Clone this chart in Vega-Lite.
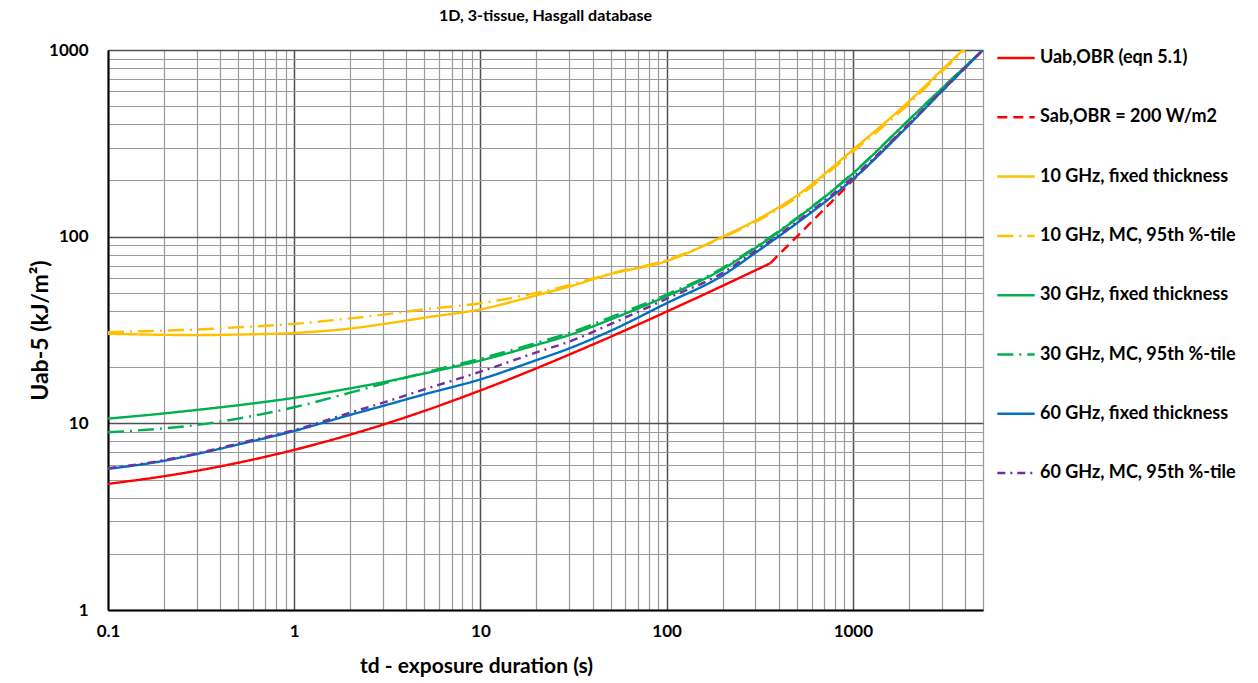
{
  "$schema": "https://vega.github.io/schema/vega-lite/v6.json",
  "width": 875,
  "height": 560,
  "autosize": {"type": "none"},
  "padding": {"left": 108, "top": 50, "right": 275, "bottom": 73},
  "background": "white",
  "view": {"stroke": null},
  "title": {"text": "1D, 3-tissue, Hasgall database", "font": "Lato", "fontSize": 16, "fontWeight": "bold", "color": "#000000", "anchor": "middle", "offset": 14},
  "data": {"values": [
    {"s": "Uab,OBR (eqn 5.1)", "t": 0.1, "U": 4.74},
    {"s": "Uab,OBR (eqn 5.1)", "t": 0.2, "U": 5.21},
    {"s": "Uab,OBR (eqn 5.1)", "t": 0.3, "U": 5.57},
    {"s": "Uab,OBR (eqn 5.1)", "t": 0.5, "U": 6.15},
    {"s": "Uab,OBR (eqn 5.1)", "t": 0.7, "U": 6.62},
    {"s": "Uab,OBR (eqn 5.1)", "t": 1, "U": 7.21},
    {"s": "Uab,OBR (eqn 5.1)", "t": 2, "U": 8.7},
    {"s": "Uab,OBR (eqn 5.1)", "t": 3, "U": 9.84},
    {"s": "Uab,OBR (eqn 5.1)", "t": 5, "U": 11.66},
    {"s": "Uab,OBR (eqn 5.1)", "t": 7, "U": 13.14},
    {"s": "Uab,OBR (eqn 5.1)", "t": 10, "U": 15.0},
    {"s": "Uab,OBR (eqn 5.1)", "t": 20, "U": 19.72},
    {"s": "Uab,OBR (eqn 5.1)", "t": 30, "U": 23.35},
    {"s": "Uab,OBR (eqn 5.1)", "t": 50, "U": 29.09},
    {"s": "Uab,OBR (eqn 5.1)", "t": 70, "U": 33.76},
    {"s": "Uab,OBR (eqn 5.1)", "t": 100, "U": 39.65},
    {"s": "Uab,OBR (eqn 5.1)", "t": 150, "U": 47.75},
    {"s": "Uab,OBR (eqn 5.1)", "t": 200, "U": 54.58},
    {"s": "Uab,OBR (eqn 5.1)", "t": 300, "U": 66.04},
    {"s": "Uab,OBR (eqn 5.1)", "t": 360, "U": 72},
    {"s": "Sab,OBR = 200 W/m2", "t": 360, "U": 72},
    {"s": "Sab,OBR = 200 W/m2", "t": 1000, "U": 200},
    {"s": "Sab,OBR = 200 W/m2", "t": 5000, "U": 1000},
    {"s": "10 GHz, fixed thickness", "t": 0.1, "U": 30.2},
    {"s": "10 GHz, fixed thickness", "t": 0.2, "U": 29.8},
    {"s": "10 GHz, fixed thickness", "t": 0.3, "U": 29.7},
    {"s": "10 GHz, fixed thickness", "t": 0.5, "U": 29.9},
    {"s": "10 GHz, fixed thickness", "t": 1, "U": 30.5},
    {"s": "10 GHz, fixed thickness", "t": 2, "U": 32.2},
    {"s": "10 GHz, fixed thickness", "t": 3, "U": 34.0},
    {"s": "10 GHz, fixed thickness", "t": 5, "U": 36.8},
    {"s": "10 GHz, fixed thickness", "t": 10, "U": 40.8},
    {"s": "10 GHz, fixed thickness", "t": 20, "U": 48.5},
    {"s": "10 GHz, fixed thickness", "t": 30, "U": 54},
    {"s": "10 GHz, fixed thickness", "t": 50, "U": 63},
    {"s": "10 GHz, fixed thickness", "t": 100, "U": 74},
    {"s": "10 GHz, fixed thickness", "t": 200, "U": 100},
    {"s": "10 GHz, fixed thickness", "t": 300, "U": 122},
    {"s": "10 GHz, fixed thickness", "t": 500, "U": 166},
    {"s": "10 GHz, fixed thickness", "t": 1000, "U": 292},
    {"s": "10 GHz, fixed thickness", "t": 2000, "U": 530},
    {"s": "10 GHz, fixed thickness", "t": 3000, "U": 780},
    {"s": "10 GHz, fixed thickness", "t": 3900, "U": 1000},
    {"s": "10 GHz, MC, 95th %-tile", "t": 0.1, "U": 30.8},
    {"s": "10 GHz, MC, 95th %-tile", "t": 0.2, "U": 31.4},
    {"s": "10 GHz, MC, 95th %-tile", "t": 0.3, "U": 31.8},
    {"s": "10 GHz, MC, 95th %-tile", "t": 0.5, "U": 32.7},
    {"s": "10 GHz, MC, 95th %-tile", "t": 1, "U": 34.1},
    {"s": "10 GHz, MC, 95th %-tile", "t": 2, "U": 36.5},
    {"s": "10 GHz, MC, 95th %-tile", "t": 3, "U": 38.2},
    {"s": "10 GHz, MC, 95th %-tile", "t": 5, "U": 40.8},
    {"s": "10 GHz, MC, 95th %-tile", "t": 10, "U": 44},
    {"s": "10 GHz, MC, 95th %-tile", "t": 20, "U": 50},
    {"s": "10 GHz, MC, 95th %-tile", "t": 30, "U": 55},
    {"s": "10 GHz, MC, 95th %-tile", "t": 50, "U": 63.5},
    {"s": "10 GHz, MC, 95th %-tile", "t": 100, "U": 75},
    {"s": "10 GHz, MC, 95th %-tile", "t": 200, "U": 99},
    {"s": "10 GHz, MC, 95th %-tile", "t": 300, "U": 120},
    {"s": "10 GHz, MC, 95th %-tile", "t": 500, "U": 162},
    {"s": "10 GHz, MC, 95th %-tile", "t": 1000, "U": 285},
    {"s": "10 GHz, MC, 95th %-tile", "t": 2000, "U": 515},
    {"s": "10 GHz, MC, 95th %-tile", "t": 3000, "U": 765},
    {"s": "10 GHz, MC, 95th %-tile", "t": 4000, "U": 1000},
    {"s": "30 GHz, fixed thickness", "t": 0.1, "U": 10.6},
    {"s": "30 GHz, fixed thickness", "t": 0.2, "U": 11.3},
    {"s": "30 GHz, fixed thickness", "t": 0.3, "U": 11.8},
    {"s": "30 GHz, fixed thickness", "t": 0.5, "U": 12.5},
    {"s": "30 GHz, fixed thickness", "t": 1, "U": 13.7},
    {"s": "30 GHz, fixed thickness", "t": 2, "U": 15.4},
    {"s": "30 GHz, fixed thickness", "t": 3, "U": 16.6},
    {"s": "30 GHz, fixed thickness", "t": 5, "U": 18.5},
    {"s": "30 GHz, fixed thickness", "t": 10, "U": 21.7},
    {"s": "30 GHz, fixed thickness", "t": 20, "U": 26.3},
    {"s": "30 GHz, fixed thickness", "t": 30, "U": 29.7},
    {"s": "30 GHz, fixed thickness", "t": 50, "U": 36},
    {"s": "30 GHz, fixed thickness", "t": 100, "U": 48},
    {"s": "30 GHz, fixed thickness", "t": 200, "U": 67},
    {"s": "30 GHz, fixed thickness", "t": 300, "U": 87},
    {"s": "30 GHz, fixed thickness", "t": 500, "U": 125},
    {"s": "30 GHz, fixed thickness", "t": 1000, "U": 218},
    {"s": "30 GHz, fixed thickness", "t": 2000, "U": 422},
    {"s": "30 GHz, fixed thickness", "t": 3000, "U": 620},
    {"s": "30 GHz, fixed thickness", "t": 5000, "U": 1000},
    {"s": "30 GHz, MC, 95th %-tile", "t": 0.1, "U": 8.95},
    {"s": "30 GHz, MC, 95th %-tile", "t": 0.2, "U": 9.4},
    {"s": "30 GHz, MC, 95th %-tile", "t": 0.3, "U": 9.8},
    {"s": "30 GHz, MC, 95th %-tile", "t": 0.5, "U": 10.6},
    {"s": "30 GHz, MC, 95th %-tile", "t": 1, "U": 12.2},
    {"s": "30 GHz, MC, 95th %-tile", "t": 2, "U": 14.6},
    {"s": "30 GHz, MC, 95th %-tile", "t": 3, "U": 16.3},
    {"s": "30 GHz, MC, 95th %-tile", "t": 5, "U": 18.7},
    {"s": "30 GHz, MC, 95th %-tile", "t": 10, "U": 22.2},
    {"s": "30 GHz, MC, 95th %-tile", "t": 20, "U": 27},
    {"s": "30 GHz, MC, 95th %-tile", "t": 30, "U": 30.5},
    {"s": "30 GHz, MC, 95th %-tile", "t": 50, "U": 37},
    {"s": "30 GHz, MC, 95th %-tile", "t": 100, "U": 49},
    {"s": "30 GHz, MC, 95th %-tile", "t": 200, "U": 68},
    {"s": "30 GHz, MC, 95th %-tile", "t": 300, "U": 88},
    {"s": "30 GHz, MC, 95th %-tile", "t": 500, "U": 126},
    {"s": "30 GHz, MC, 95th %-tile", "t": 1000, "U": 219},
    {"s": "30 GHz, MC, 95th %-tile", "t": 2000, "U": 423},
    {"s": "30 GHz, MC, 95th %-tile", "t": 3000, "U": 622},
    {"s": "30 GHz, MC, 95th %-tile", "t": 5000, "U": 1000},
    {"s": "60 GHz, fixed thickness", "t": 0.1, "U": 5.7},
    {"s": "60 GHz, fixed thickness", "t": 0.2, "U": 6.3},
    {"s": "60 GHz, fixed thickness", "t": 0.3, "U": 6.85},
    {"s": "60 GHz, fixed thickness", "t": 0.5, "U": 7.7},
    {"s": "60 GHz, fixed thickness", "t": 1, "U": 9.1},
    {"s": "60 GHz, fixed thickness", "t": 2, "U": 11.1},
    {"s": "60 GHz, fixed thickness", "t": 3, "U": 12.4},
    {"s": "60 GHz, fixed thickness", "t": 5, "U": 14.3},
    {"s": "60 GHz, fixed thickness", "t": 10, "U": 17.2},
    {"s": "60 GHz, fixed thickness", "t": 20, "U": 21.8},
    {"s": "60 GHz, fixed thickness", "t": 30, "U": 25.2},
    {"s": "60 GHz, fixed thickness", "t": 50, "U": 31.3},
    {"s": "60 GHz, fixed thickness", "t": 100, "U": 44},
    {"s": "60 GHz, fixed thickness", "t": 200, "U": 62},
    {"s": "60 GHz, fixed thickness", "t": 300, "U": 82},
    {"s": "60 GHz, fixed thickness", "t": 500, "U": 118},
    {"s": "60 GHz, fixed thickness", "t": 1000, "U": 203},
    {"s": "60 GHz, fixed thickness", "t": 2000, "U": 396},
    {"s": "60 GHz, fixed thickness", "t": 3000, "U": 600},
    {"s": "60 GHz, fixed thickness", "t": 5000, "U": 1000},
    {"s": "60 GHz, MC, 95th %-tile", "t": 0.1, "U": 5.75},
    {"s": "60 GHz, MC, 95th %-tile", "t": 0.2, "U": 6.35},
    {"s": "60 GHz, MC, 95th %-tile", "t": 0.3, "U": 6.9},
    {"s": "60 GHz, MC, 95th %-tile", "t": 0.5, "U": 7.8},
    {"s": "60 GHz, MC, 95th %-tile", "t": 1, "U": 9.2},
    {"s": "60 GHz, MC, 95th %-tile", "t": 2, "U": 11.4},
    {"s": "60 GHz, MC, 95th %-tile", "t": 3, "U": 12.9},
    {"s": "60 GHz, MC, 95th %-tile", "t": 5, "U": 15.2},
    {"s": "60 GHz, MC, 95th %-tile", "t": 10, "U": 18.9},
    {"s": "60 GHz, MC, 95th %-tile", "t": 20, "U": 24},
    {"s": "60 GHz, MC, 95th %-tile", "t": 30, "U": 27.4},
    {"s": "60 GHz, MC, 95th %-tile", "t": 50, "U": 34},
    {"s": "60 GHz, MC, 95th %-tile", "t": 100, "U": 46.5},
    {"s": "60 GHz, MC, 95th %-tile", "t": 200, "U": 64},
    {"s": "60 GHz, MC, 95th %-tile", "t": 300, "U": 84},
    {"s": "60 GHz, MC, 95th %-tile", "t": 500, "U": 120},
    {"s": "60 GHz, MC, 95th %-tile", "t": 1000, "U": 208},
    {"s": "60 GHz, MC, 95th %-tile", "t": 2000, "U": 402},
    {"s": "60 GHz, MC, 95th %-tile", "t": 3000, "U": 605},
    {"s": "60 GHz, MC, 95th %-tile", "t": 5000, "U": 1000}
  ]},
  "mark": {"type": "line", "strokeWidth": 2.4, "clip": true, "interpolate": "monotone", "strokeCap": "butt"},
  "encoding": {
    "x": {
      "field": "t", "type": "quantitative",
      "scale": {"type": "log", "domain": [0.1, 5000], "nice": false},
      "axis": {
        "values": [0.1,0.2,0.3,0.4,0.5,0.6,0.7,0.8,0.9,1,2,3,4,5,6,7,8,9,10,20,30,40,50,60,70,80,90,100,200,300,400,500,600,700,800,900,1000,2000,3000,4000,5000],
        "labelExpr": "abs(log(datum.value)/LN10 - round(log(datum.value)/LN10)) < 0.001 ? format(datum.value, '~g') : ''",
        "ticks": false,
        "grid": true,
        "gridColor": {"condition": {"test": "abs(log(datum.value)/LN10 - round(log(datum.value)/LN10)) < 0.001", "value": "#505050"}, "value": "#9a9a9a"},
        "gridWidth": {"condition": {"test": "abs(log(datum.value)/LN10 - round(log(datum.value)/LN10)) < 0.001", "value": 1.5}, "value": 1.2},
        "domain": true, "domainColor": "#000000", "domainWidth": 2,
        "labelFont": "Lato", "labelFontSize": 17, "labelFontWeight": "bold", "labelColor": "#000000",
        "labelPadding": 13, "labelOverlap": false, "labelFlush": false,
        "title": "td - exposure duration (s)",
        "titleFont": "Lato", "titleFontSize": 21, "titleFontWeight": "bold", "titleColor": "#000000",
        "titleX": 368, "titlePadding": 16
      }
    },
    "y": {
      "field": "U", "type": "quantitative",
      "scale": {"type": "log", "domain": [1, 1000], "nice": false},
      "axis": {
        "values": [1,2,3,4,5,6,7,8,9,10,20,30,40,50,60,70,80,90,100,200,300,400,500,600,700,800,900,1000],
        "labelExpr": "abs(log(datum.value)/LN10 - round(log(datum.value)/LN10)) < 0.001 ? format(datum.value, '~g') : ''",
        "ticks": false,
        "grid": true,
        "gridColor": {"condition": {"test": "abs(log(datum.value)/LN10 - round(log(datum.value)/LN10)) < 0.001", "value": "#505050"}, "value": "#9a9a9a"},
        "gridWidth": {"condition": {"test": "abs(log(datum.value)/LN10 - round(log(datum.value)/LN10)) < 0.001", "value": 1.5}, "value": 1.2},
        "domain": true, "domainColor": "#000000", "domainWidth": 2,
        "labelFont": "Lato", "labelFontSize": 17, "labelFontWeight": "bold", "labelColor": "#000000",
        "labelPadding": 20, "labelOverlap": false, "labelFlush": false,
        "title": "Uab-5  (kJ/m²)",
        "titleFont": "Lato", "titleFontSize": 23, "titleFontWeight": "bold", "titleColor": "#000000",
        "titlePadding": -4
      }
    },
    "color": {
      "field": "s", "type": "nominal",
      "scale": {
        "domain": ["Uab,OBR (eqn 5.1)", "Sab,OBR = 200 W/m2", "10 GHz, fixed thickness", "10 GHz, MC, 95th %-tile", "30 GHz, fixed thickness", "30 GHz, MC, 95th %-tile", "60 GHz, fixed thickness", "60 GHz, MC, 95th %-tile"],
        "range": ["#FF0000", "#FF0000", "#FFC000", "#FFC000", "#00B050", "#00B050", "#0070C0", "#7030A0"]
      },
      "legend": {
        "title": null, "orient": "none", "legendX": 888, "legendY": -12,
        "symbolType": "stroke", "symbolSize": 1400, "symbolStrokeWidth": 2.5,
        "labelFont": "Lato", "labelFontSize": 18, "labelFontWeight": "bold", "labelColor": "#000000",
        "labelLimit": 300, "labelOffset": 4, "rowPadding": 30.3
      }
    },
    "strokeDash": {
      "field": "s", "type": "nominal",
      "scale": {
        "domain": ["Uab,OBR (eqn 5.1)", "Sab,OBR = 200 W/m2", "10 GHz, fixed thickness", "10 GHz, MC, 95th %-tile", "30 GHz, fixed thickness", "30 GHz, MC, 95th %-tile", "60 GHz, fixed thickness", "60 GHz, MC, 95th %-tile"],
        "range": [[1, 0], [10, 6], [1, 0], [16, 6, 2, 6], [1, 0], [16, 6, 2, 6], [1, 0], [8, 5, 2, 5]]
      },
      "legend": null
    }
  }
}
